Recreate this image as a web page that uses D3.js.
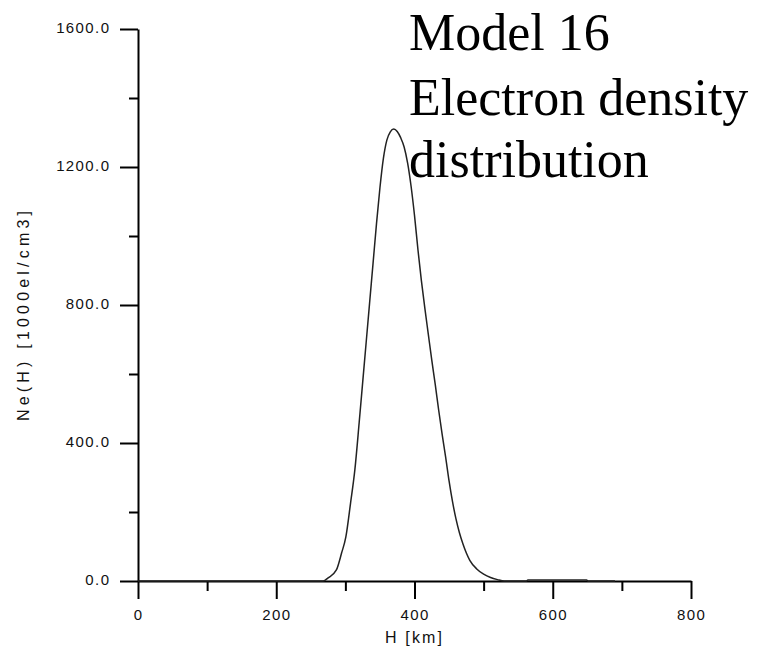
<!DOCTYPE html>
<html>
<head>
<meta charset="utf-8">
<script src="https://cdn.jsdelivr.net/npm/d3@7"></script>
<style>
  html, body { margin: 0; padding: 0; background: #fff; }
  svg { display: block; }
</style>
</head>
<body>
<svg id="chart" width="758" height="650"></svg>
<script>
// ---- data ----
const heightKm = [0, 100, 200, 268, 275, 287, 294.5, 300.7, 307.5, 313.7, 320, 325, 330, 335, 340, 345, 350, 355,
  360, 365, 370, 375, 380, 385, 390, 395, 400, 405, 410, 415, 420, 425, 430, 435, 440, 445, 450, 455,
  460, 465, 470, 480, 490, 500, 510, 520, 530, 562, 564, 649, 651, 690];
const density = [0, 0, 0, 0, 9, 32, 81, 128, 226, 322, 460, 575, 690, 805, 920, 1035, 1140, 1225,
  1278, 1302, 1310, 1303, 1285, 1258, 1212, 1145, 1060, 960, 870, 790, 715, 640, 570, 495, 425, 360, 290, 230,
  180, 140, 108, 60, 35, 20, 10, 4, 0, 0, 3, 3, 0, 0];

const yMajorTicks = [0, 400, 800, 1200, 1600];
const yMinorTicks = [200, 600, 1000, 1400];
const xMajorTicks = [0, 200, 400, 600, 800];
const xMinorTicks = [100, 300, 500, 700];
const titleLines = ["Model 16", "Electron density", "distribution"];
const xTitle = "H [km]";
const yTitle = "Ne(H) [1000el/cm3]";

// ---- layout ----
const svg = d3.select("#chart");
const x0 = 138, x1 = 691, y0 = 581, y1 = 29;
const x = d3.scaleLinear().domain([0, 800]).range([x0, x1]);
const y = d3.scaleLinear().domain([0, 1600]).range([y0, y1]);

const tickFont = "'Liberation Sans', Arial, sans-serif";

// minor axes
svg.append("g").attr("transform", `translate(${x0},0)`)
  .call(d3.axisLeft(y).tickValues(yMinorTicks).tickSize(9).tickFormat(""))
  .call(g => g.select(".domain").remove());
svg.append("g").attr("transform", `translate(0,${y0})`)
  .call(d3.axisBottom(x).tickValues(xMinorTicks).tickSize(10).tickFormat(""))
  .call(g => g.select(".domain").remove());

// major axes
const yAxisG = svg.append("g").attr("transform", `translate(${x0},0)`)
  .call(d3.axisLeft(y).tickValues(yMajorTicks).tickSize(18).tickSizeOuter(0)
    .tickPadding(11).tickFormat(d3.format(".1f")));
yAxisG.selectAll("text").attr("dy", "0.22em");

const xAxisG = svg.append("g").attr("transform", `translate(0,${y0})`)
  .call(d3.axisBottom(x).tickValues(xMajorTicks).tickSize(18).tickSizeOuter(0)
    .tickPadding(10).tickFormat(d3.format("d")));

svg.selectAll(".tick text")
  .attr("font-family", tickFont).attr("font-size", 15)
  .attr("fill", "#111").style("letter-spacing", "1.4px");
yAxisG.selectAll("text").attr("dx", "1.4px");
svg.selectAll(".tick line, .domain").attr("stroke", "#000").attr("stroke-width", 2);

// curve
const line = d3.line().x((d, i) => x(heightKm[i])).y(d => y(d)).curve(d3.curveMonotoneX);
svg.append("path")
  .attr("d", line(density))
  .attr("fill", "none")
  .attr("stroke", "#222")
  .attr("stroke-width", 1.5)
  .attr("stroke-linejoin", "round");

// axis titles
svg.append("text")
  .attr("x", 413.5).attr("y", 643)
  .attr("text-anchor", "middle")
  .attr("font-family", tickFont).attr("font-size", 16)
  .attr("textLength", 57).attr("lengthAdjust", "spacing")
  .attr("fill", "#111")
  .text(xTitle);

svg.append("text")
  .attr("transform", "translate(29,316) rotate(-90)")
  .attr("text-anchor", "middle")
  .attr("font-family", tickFont).attr("font-size", 16)
  .attr("textLength", 210).attr("lengthAdjust", "spacing")
  .attr("fill", "#111")
  .text(yTitle);

// title
const tb = [50, 115, 177];
svg.append("g").selectAll("text").data(titleLines).join("text")
  .attr("x", 409).attr("y", (d, i) => tb[i])
  .attr("font-family", "'Liberation Serif', 'Times New Roman', serif")
  .attr("font-size", 52)
  .attr("fill", "#000")
  .text(d => d);
</script>
</body>
</html>
